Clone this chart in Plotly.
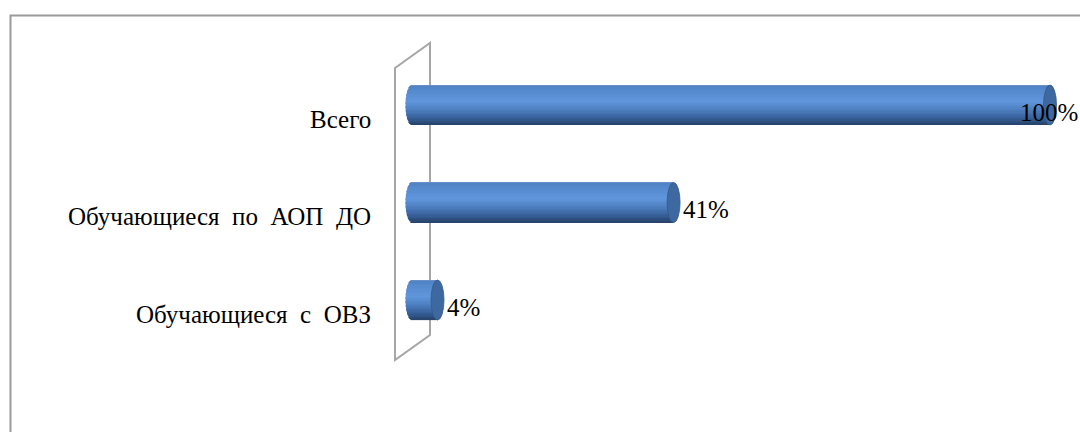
import plotly.graph_objects as go

# ---- data ----
categories = ["Всего", "Обучающиеся по АОП ДО", "Обучающиеся с ОВЗ"]
values = [100, 41, 4]
value_labels = ["100%", "41%", "4%"]

W, H = 1080, 432
ZERO_PX, SCALE = 412.0, 6.38           # px of x=0, px per percent
XMIN = -ZERO_PX / SCALE
XMAX = (W - ZERO_PX) / SCALE
ROW_PX, TOP_PX = 97.5, 105.0           # category spacing, centre of first row
YMIN = -TOP_PX / ROW_PX
YMAX = YMIN + H / ROW_PX
BAR_W = 40.0 / ROW_PX                  # bar thickness in axis units
CAP_A = 6.5 / SCALE                    # ellipse half-width of caps (x units)

ypos = list(range(len(categories)))

# cylinder shading profile, top -> bottom
stops = [(0.0, (120, 150, 200)), (0.04, (80, 130, 196)), (0.15, (86, 138, 206)),
         (0.42, (96, 150, 220)), (0.6, (80, 130, 196)), (0.82, (56, 98, 156)), (1.0, (38, 66, 108))]


def shade(t):
    for (t0, c0), (t1, c1) in zip(stops[:-1], stops[1:]):
        if t <= t1:
            f = (t - t0) / (t1 - t0)
            return "rgb(%d,%d,%d)" % tuple(round(a + (b - a) * f) for a, b in zip(c0, c1))
    return "rgb(%d,%d,%d)" % stops[-1][1]


fig = go.Figure()
N = 30
dw = BAR_W / N
for i in range(N):
    t = (i + 0.5) / N
    tn = 2 * t - 1
    left = CAP_A * max(0.0, 1 - tn * tn) ** 0.5
    fig.add_trace(go.Bar(
        y=ypos, x=[v + left for v in values], base=-left,
        orientation="h", width=dw * 1.08, offset=-BAR_W / 2 + i * dw,
        marker=dict(color=shade(t), line=dict(width=0)),
        hoverinfo="skip", showlegend=False,
    ))

shapes = []
# outer chart border (extends past right/bottom edge)
shapes.append(dict(type="rect", xref="paper", yref="paper",
                   x0=10.5 / W, x1=1.05, y0=-0.05, y1=1 - 15.5 / H,
                   line=dict(color="#9a9a9a", width=2), fillcolor="rgba(0,0,0,0)"))


def pp(px, py):
    return "%f %f" % (px / W, 1 - py / H)


# 3D wall outline
shapes.append(dict(type="path", xref="paper", yref="paper",
                   path="M %s L %s L %s L %s Z" % (pp(395, 68), pp(430, 43), pp(430, 335), pp(395, 360)),
                   line=dict(color="#a6a6a6", width=2), fillcolor="rgba(0,0,0,0)", layer="below"))

# right end caps
for yv, v in zip(ypos, values):
    shapes.append(dict(type="circle", xref="x", yref="y",
                       x0=v - CAP_A, x1=v + CAP_A, y0=yv - BAR_W / 2, y1=yv + BAR_W / 2,
                       fillcolor="#3e69a0", line=dict(color="#34598a", width=0.8)))

annotations = []
FONT = dict(family="Liberation Serif, Times New Roman, serif", size=25, color="black")
for yv, c in zip(ypos, categories):
    annotations.append(dict(xref="paper", yref="y", x=373 / W, y=yv, yshift=-14,
                            text=c.replace(" ", "\u00a0 "), showarrow=False,
                            xanchor="right", yanchor="middle", font=FONT))
for yv, v, lab in zip(ypos, values, value_labels):
    if v > 90:
        annotations.append(dict(xref="paper", yref="y", x=1080 / W, y=yv, yshift=-7,
                                text=lab, showarrow=False, xanchor="right", yanchor="middle", font=FONT))
    else:
        annotations.append(dict(xref="x", yref="y", x=v + CAP_A, y=yv, xshift=1, yshift=-7,
                                text=lab, showarrow=False, xanchor="left", yanchor="middle", font=FONT))

fig.update_layout(
    width=W, height=H, margin=dict(l=0, r=0, t=0, b=0),
    paper_bgcolor="white", plot_bgcolor="white", barmode="overlay",
    xaxis=dict(range=[XMIN, XMAX], visible=False, fixedrange=True),
    yaxis=dict(range=[YMAX, YMIN], visible=False, fixedrange=True),
    shapes=shapes, annotations=annotations,
)

fig.write_html("out.html", config={"displayModeBar": False},
               post_script="document.body.style.margin='0';document.body.style.overflow='hidden';")
